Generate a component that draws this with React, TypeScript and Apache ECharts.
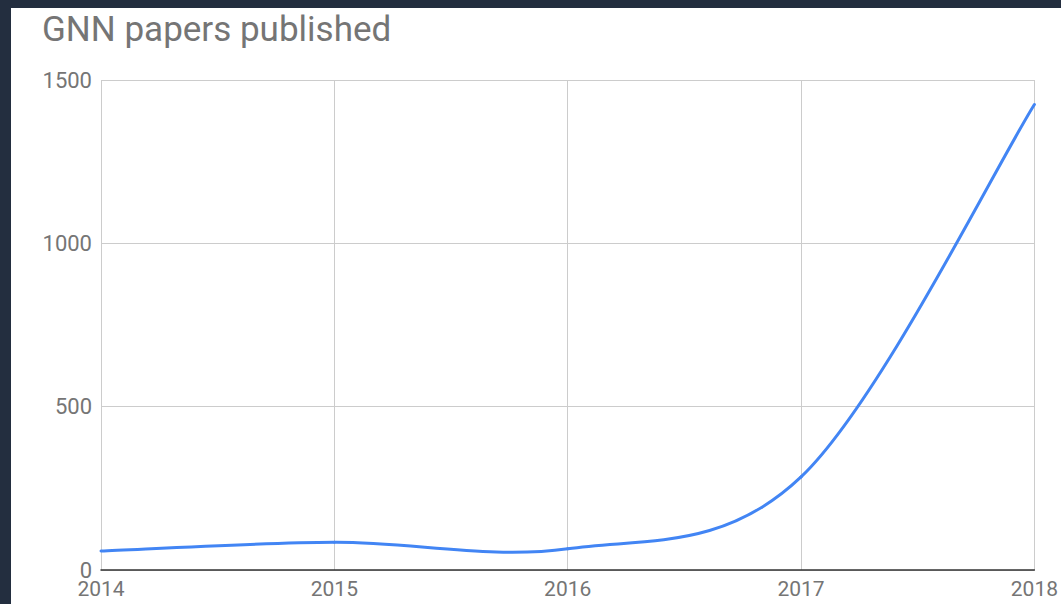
import React, { useEffect, useRef } from "react";
import * as echarts from "echarts";

const years = ["2014", "2015", "2016", "2017", "2018"];
const papers = [58, 85, 65, 285, 1425];
const titleText = "GNN papers published";

export default function App() {
  const ref = useRef<HTMLDivElement>(null);
  useEffect(() => {
    if (!ref.current) return;
    const chart = echarts.init(ref.current, null, { renderer: "svg" });
    const renderItem = (params: any, api: any) => {
      const i = params.dataIndex;
      const n = papers.length;
      if (i >= n - 1) return null;
      const pt = (k: number) => {
        const j = Math.max(0, Math.min(n - 1, k));
        return api.coord([j, papers[j]]);
      };
      const p0 = pt(i - 1);
      const p1 = pt(i);
      const p2 = pt(i + 1);
      const p3 = pt(i + 2);
      const cp1 = [p1[0] + (p2[0] - p0[0]) / 6, p1[1] + (p2[1] - p0[1]) / 6];
      const cp2 = [p2[0] - (p3[0] - p1[0]) / 6, p2[1] - (p3[1] - p1[1]) / 6];
      return {
        type: "bezierCurve",
        shape: {
          x1: p1[0], y1: p1[1], x2: p2[0], y2: p2[1],
          cpx1: cp1[0], cpy1: cp1[1], cpx2: cp2[0], cpy2: cp2[1],
        },
        style: { stroke: "#4285F4", lineWidth: 3, fill: null, lineCap: "round" },
      };
    };
    chart.setOption({
      animation: false,
      backgroundColor: "#ffffff",
      title: {
        text: titleText,
        left: 31,
        top: 4,
        padding: 0,
        textStyle: { fontFamily: "Roboto", fontSize: 35, fontWeight: "normal", color: "#757575" },
      },
      grid: { left: 90, right: 23, top: 72, bottom: 34, containLabel: false },
      xAxis: {
        type: "category",
        data: years,
        boundaryGap: false,
        axisLine: { show: true, lineStyle: { color: "#333333", width: 1.5 } },
        axisTick: { show: false },
        axisLabel: { fontFamily: "Roboto", fontSize: 21, color: "#757575", margin: 8 },
        splitLine: { show: true, lineStyle: { color: "#cccccc", width: 1 } },
      },
      yAxis: {
        type: "value",
        min: 0,
        max: 1500,
        interval: 500,
        axisLine: { show: false },
        axisTick: { show: false },
        axisLabel: {
          fontFamily: "Roboto",
          fontSize: 22,
          color: "#757575",
          margin: 9,
          formatter: (v: number) => String(v),
        },
        splitLine: { show: true, lineStyle: { color: "#cccccc", width: 1 } },
      },
      series: [
        {
          type: "custom",
          renderItem,
          data: papers.map((v, i) => [i, v]),
          encode: { x: 0, y: 1 },
          clip: false,
        },
      ],
    });
    return () => chart.dispose();
  }, []);
  return (
    <div style={{ position: "fixed", left: 0, top: 0, width: 1061, height: 604, background: "#232e3f" }}>
      <div ref={ref} style={{ position: "absolute", left: 11, top: 8, width: 1050, height: 596 }} />
    </div>
  );
}
